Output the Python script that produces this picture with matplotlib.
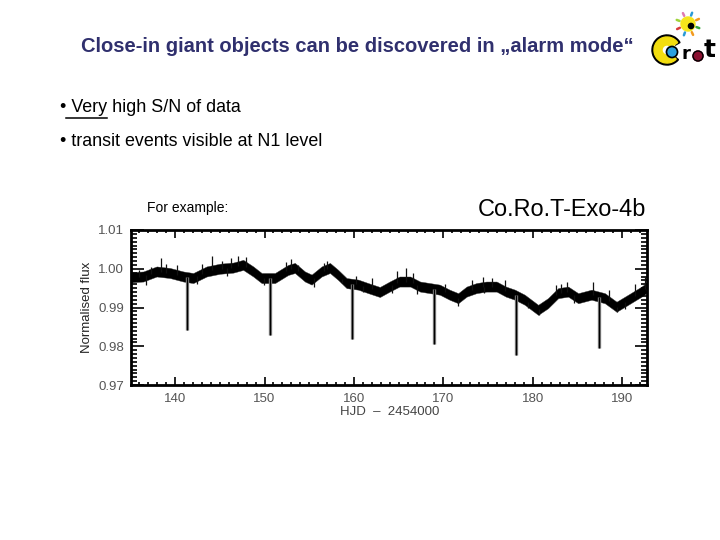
import matplotlib
matplotlib.use("Agg")
import matplotlib.pyplot as plt
from matplotlib.patches import Circle, Wedge
from matplotlib.ticker import MultipleLocator
import numpy as np

# ---------------- data ----------------
t_curve = [135.07, 136.45, 137.94, 139.43, 140.92, 142.03, 143.53, 145.02, 146.51, 147.62,
           148.74, 149.68, 151.17, 152.65, 153.4, 154.52, 155.27, 156.39, 157.32, 158.24,
           159.18, 160.48, 161.6, 162.9, 164.0, 165.1, 166.3, 167.4, 168.5, 169.6,
           170.7, 171.66, 172.6, 173.7, 174.8, 175.95, 177.0, 178.0, 179.1, 180.6,
           181.7, 182.84, 183.96, 185.08, 186.57, 188.06, 189.37, 190.67, 192.16, 192.7]
flux_curve = [0.9978, 0.9980, 0.9993, 0.9989, 0.9980, 0.9976, 0.9993, 1.0000, 1.0003, 1.0010,
              0.9993, 0.9976, 0.9976, 0.9997, 1.0002, 0.9980, 0.9972, 0.9993, 1.0002, 0.9984,
              0.9963, 0.9959, 0.9950, 0.9940, 0.9954, 0.9967, 0.9967, 0.9954, 0.9950, 0.9946,
              0.9933, 0.9924, 0.9941, 0.9950, 0.9954, 0.9954, 0.9941, 0.9933, 0.9920, 0.9894,
              0.9911, 0.9937, 0.9941, 0.9924, 0.9933, 0.9924, 0.9902, 0.9920, 0.9941, 0.9950]
scatter = 0.0013

transit_times = [141.36, 150.57, 159.77, 168.97, 178.17, 187.37]
transit_bottoms = [0.9842, 0.9829, 0.9818, 0.9805, 0.9777, 0.9796]

spike_times = [136.0, 137.3, 138.4, 139.0, 140.2, 143.0, 144.1, 145.3, 146.2, 147.0, 147.9,
               152.4, 153.0, 153.8, 156.6, 157.0, 160.2, 162.0, 164.8, 165.8, 166.6, 170.2,
               173.2, 174.4, 175.4, 176.9, 182.6, 183.2, 183.8, 186.7, 188.5, 191.4, 192.5]
spike_tops = [0.9998, 1.0005, 1.0029, 1.0012, 1.0010, 1.0012, 1.0032, 1.0020, 1.0029, 1.0032,
              1.0030, 1.0018, 1.0026, 1.0010, 1.0015, 1.0020, 0.9982, 0.9975, 0.9995, 1.0002,
              0.9988, 0.9960, 0.9972, 0.9978, 0.9975, 0.9972, 0.9958, 0.9960, 0.9967, 0.9966,
              0.9945, 0.9960, 0.9978]
dip_times = [136.8, 142.5, 145.8, 149.9, 155.5, 158.7, 161.0, 164.3, 167.0, 171.6, 174.6,
             179.5, 180.7, 184.6, 189.4, 190.3]
dip_bottoms = [0.9958, 0.9960, 0.9982, 0.9958, 0.9952, 0.9962, 0.9940, 0.9938, 0.9934,
               0.9905, 0.9938, 0.9900, 0.9880, 0.9912, 0.9888, 0.9895]

xticks = [140, 150, 160, 170, 180, 190]
yticks = [0.97, 0.98, 0.99, 1.00, 1.01]

title = "Close-in giant objects can be discovered in \u201ealarm mode\u201c"
bullet1_pre = "\u2022 "
bullet1_ul = "Very"
bullet1_post = " high S/N of data"
bullet2 = "\u2022 transit events visible at N1 level"

# ---------------- figure ----------------
W, H = 720, 540
fig = plt.figure(figsize=(7.2, 5.4), dpi=100)
fig.patch.set_facecolor("white")
FONT = "Liberation Sans"
BFS = 12.9


def fx(x):
    return x / W


def fy(y):
    return 1 - y / H


fig.text(fx(357.5), fy(47), title, ha="center", va="center", fontsize=14.5,
         fontweight="bold", color="#30306e", family=FONT)

fig.text(fx(60), fy(108), bullet1_pre + bullet1_ul + bullet1_post, ha="left",
         va="center", fontsize=BFS, color="black", family=FONT)
fig.text(fx(60), fy(142), bullet2, ha="left", va="center", fontsize=BFS,
         color="black", family=FONT)
fig.text(fx(147), fy(208), "For example:", ha="left", va="center", fontsize=10,
         color="black", family=FONT)
fig.text(fx(478), fy(210), "Co.Ro.T-Exo-4b", ha="left", va="center", fontsize=16.9,
         color="black", family=FONT)

# underline for "Very"
fig.canvas.draw()
r = fig.canvas.get_renderer()
probe = fig.text(0, 0, bullet1_pre, fontsize=BFS, family=FONT)
w_pre = probe.get_window_extent(r).width
probe.set_text(bullet1_pre + bullet1_ul)
w_pre_ul = probe.get_window_extent(r).width
probe.remove()
x0 = 60 + w_pre - 5
x1 = 60 + w_pre_ul
fig.add_artist(plt.Line2D([fx(x0), fx(x1)], [fy(118), fy(118)], color="black",
                          lw=1.1, transform=fig.transFigure))

# ---------------- light curve axes ----------------
ax = fig.add_axes([131 / W, 1 - 385 / H, 515.5 / W, 155 / H])
t = np.array(t_curve)
f = np.array(flux_curve)
ax.fill_between(t, f - scatter, f + scatter, color="black", lw=0.3, edgecolor="#333333")
ax.vlines(spike_times, np.interp(spike_times, t, f), spike_tops, color="#111111", lw=0.9)
ax.vlines(dip_times, np.interp(dip_times, t, f), dip_bottoms, color="#111111", lw=0.9)
base = np.interp(transit_times, t, f)
ax.vlines(transit_times, base, transit_bottoms, color="#888888", lw=2.4)
ax.vlines(transit_times, base, transit_bottoms, color="black", lw=1.0)

ax.set_xlim(135.07, 192.72)
ax.set_ylim(0.97, 1.01)
ax.set_xticks(xticks)
ax.set_yticks(yticks)
ax.set_yticklabels(["%.2f" % v for v in yticks])
ax.xaxis.set_minor_locator(MultipleLocator(1))
ax.yaxis.set_minor_locator(MultipleLocator(0.001))
ax.tick_params(which="both", direction="in", top=True, right=True, colors="black",
               labelcolor="#555555", labelsize=9.5)
ax.tick_params(axis="y", which="major", length=9, width=1.2, pad=5)
ax.tick_params(axis="y", which="minor", length=4, width=1.2)
ax.tick_params(axis="x", which="major", length=6, width=1.2, pad=6)
ax.tick_params(axis="x", which="minor", length=2.5, width=1.2)
for lab in ax.get_xticklabels() + ax.get_yticklabels():
    lab.set_family(FONT)
for s in ax.spines.values():
    s.set_linewidth(2)
    s.set_color("black")
ax.set_ylabel("Normalised flux", fontsize=9.5, color="#222222", family=FONT, labelpad=4)
fig.text(fx(390), fy(412), "HJD  \u2013  2454000", ha="center", va="center",
         fontsize=9.5, color="#444444", family=FONT)

# ---------------- logo ----------------
lg = fig.add_axes([648 / W, 1 - 72 / H, 70 / W, 64 / H])
lg.set_xlim(0, 70)
lg.set_ylim(64, 0)
lg.set_aspect("equal")
lg.axis("off")
# sun
lg.add_patch(Circle((40, 16), 7, color="#f5e51c"))
lg.add_patch(Circle((43, 18), 2.6, color="black"))
ray_cols = ["#3aa83a", "#f29a1f", "#2a9ad6", "#d83a3a", "#9fd33a", "#e07bb0", "#2a9ad6", "#f29a1f"]
for k, c in enumerate(ray_cols):
    a = np.deg2rad(k * 45 + 20)
    lg.plot([40 + 9 * np.cos(a), 40 + 12 * np.cos(a)],
            [16 + 9 * np.sin(a), 16 + 12 * np.sin(a)], color=c, lw=1.8, solid_capstyle="round")
# big C
lg.add_patch(Wedge((19, 42), 15, 40, 330, width=5, color="black"))
lg.add_patch(Wedge((19, 42), 13, 45, 325, width=8, color="#f2dd10"))
lg.add_patch(Circle((24, 44), 5.5, color="#2aa0e0"))
lg.add_patch(Circle((24, 44), 5.5, fill=False, ec="black", lw=1.2))
lg.text(38, 46, "r", fontsize=13, fontweight="bold", ha="center", va="center",
        color="black", family="DejaVu Sans")
lg.add_patch(Circle((50, 48), 5, color="#8b1030"))
lg.add_patch(Circle((50, 48), 5, fill=False, ec="black", lw=1))
lg.text(62, 42, "t", fontsize=18, fontweight="bold", ha="center", va="center",
        color="black", family="DejaVu Sans")

fig.savefig("out.png", dpi=100, facecolor="white")
